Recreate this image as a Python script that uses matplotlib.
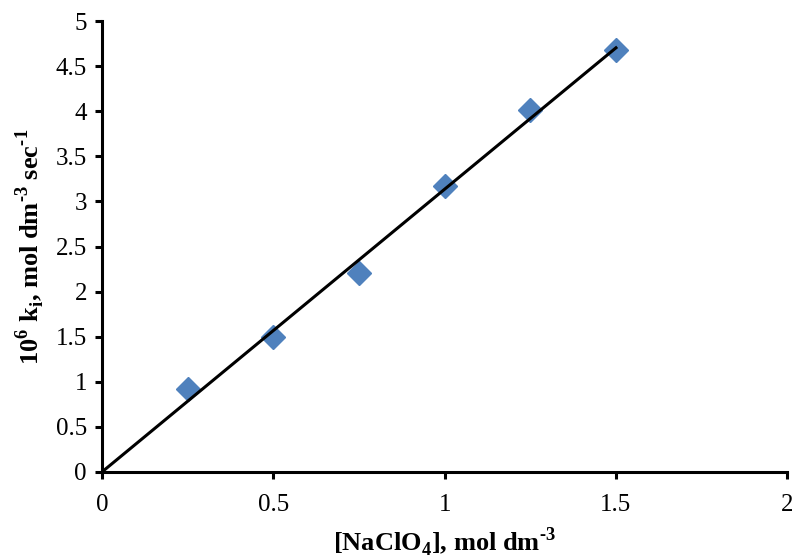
import numpy as np
import matplotlib
matplotlib.use('Agg')
import matplotlib.pyplot as plt

# data
conc = np.array([0.25, 0.5, 0.75, 1.0, 1.25, 1.5])
rate = np.array([0.92, 1.50, 2.21, 3.17, 4.01, 4.68])

# straight line through the origin
slope = np.sum(conc * rate) / np.sum(conc**2)
x_fit = np.array([0.0, conc.max()])

plt.rcParams['font.family'] = ['Liberation Serif', 'DejaVu Serif']
plt.rcParams['mathtext.fontset'] = 'custom'
plt.rcParams['mathtext.rm'] = 'Liberation Serif'
plt.rcParams['mathtext.bf'] = 'Liberation Serif:bold'

fig = plt.figure(figsize=(7.92, 5.59), dpi=100)
ax = fig.add_axes([0.129, 0.156, 0.865, 0.806])

ax.plot(conc, rate, 'D', color='#4F81BD', markersize=12, zorder=2)
ax.plot(x_fit, slope * x_fit, color='black', linewidth=2.2, zorder=3)

ax.set_xlim(0, 2)
ax.set_ylim(0, 5)
ax.set_xticks(np.arange(0, 2.01, 0.5))
ax.set_yticks(np.arange(0, 5.01, 0.5))
ax.set_xticklabels(['0', '0.5', '1', '1.5', '2'])
ax.set_yticklabels(['0', '0.5', '1', '1.5', '2', '2.5', '3', '3.5', '4', '4.5', '5'])

for side in ['top', 'right']:
    ax.spines[side].set_visible(False)
for side in ['left', 'bottom']:
    ax.spines[side].set_linewidth(2.2)
ax.tick_params(axis='both', direction='out', length=5, width=2.2, labelsize=18)
ax.tick_params(axis='x', pad=11)
ax.tick_params(axis='y', pad=6)

ax.set_xlabel('[NaClO$_\\mathbf{4}$], mol dm$^\\mathbf{\u20103}$',
              fontsize=19, fontweight='bold', labelpad=7)
ax.set_ylabel('10$^\\mathbf{6}$ k$_\\mathbf{i}$, mol dm$^\\mathbf{\u20103}$ sec$^\\mathbf{\u20101}$',
              fontsize=19, fontweight='bold', labelpad=6)

fig.savefig('out.png', dpi=100)
